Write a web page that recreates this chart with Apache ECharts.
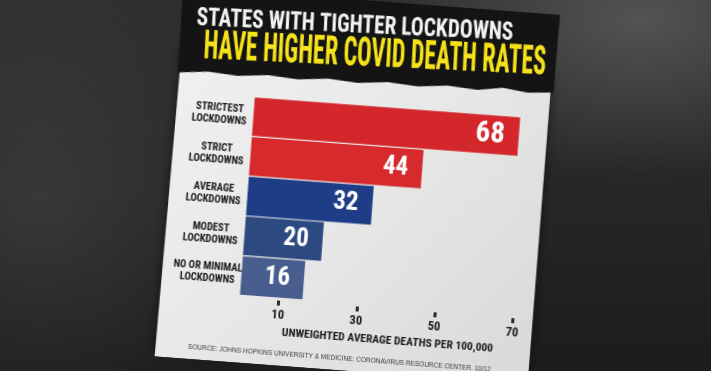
<!DOCTYPE html>
<html>
<head>
<meta charset="utf-8">
<script src="https://cdn.jsdelivr.net/npm/echarts@6/dist/echarts.min.js"></script>
<style>
  html, body { margin: 0; padding: 0; width: 711px; height: 371px; overflow: hidden; }
  body {
    background:
      radial-gradient(ellipse 260px 160px at 640px 20px, rgba(120,120,120,0.5), rgba(120,120,120,0) 100%),
      radial-gradient(ellipse 220px 260px at 40px 200px, rgba(90,90,90,0.35), rgba(90,90,90,0) 100%),
      linear-gradient(180deg, #2e2e2e 0%, #262626 55%, #1c1c1c 100%);
  }
  #chart {
    position: absolute; left: 0; top: 0; width: 711px; height: 371px;
    transform: rotate(4.3deg); transform-origin: 355.5px 185.5px;
  }
</style>
</head>
<body>
<div id="chart"></div>
<script>
// ---- data ----
const categories = ['STRICTEST\nLOCKDOWNS', 'STRICT\nLOCKDOWNS', 'AVERAGE\nLOCKDOWNS', 'MODEST\nLOCKDOWNS', 'NO OR MINIMAL\nLOCKDOWNS'];
const deathRates = [68, 44, 32, 20, 16];
const xTickValues = [10, 30, 50, 70];
const titleLine1 = 'STATES WITH TIGHTER LOCKDOWNS';
const titleLine2 = 'HAVE HIGHER COVID DEATH RATES';
const xAxisTitle = 'UNWEIGHTED AVERAGE DEATHS PER 100,000';
const sourceText = 'SOURCE: JOHNS HOPKINS UNIVERSITY & MEDICINE: CORONAVIRUS RESOURCE CENTER. 10/12';

// ---- styles ----
const barColors = ['#d4272c', '#d62a2d', '#1f3d87', '#2d4a80', '#475e8e'];
const FONT = "'Roboto Condensed', 'Liberation Sans', sans-serif";

const chart = echarts.init(document.getElementById('chart'), null, { renderer: 'canvas' });

const barData = deathRates.map((v, i) => ({
  value: v,
  itemStyle: { color: barColors[i] },
  label: i === 0 ? { fontSize: 29 } : undefined
}));

chart.setOption({
  backgroundColor: 'transparent',
  animation: false,
  grid: { left: 248.5, top: 104.6, width: 274, height: 199, containLabel: false },
  xAxis: {
    type: 'value', min: 0, max: 70, offset: 2.5,
    name: xAxisTitle, nameLocation: 'middle', nameGap: 25,
    nameTextStyle: { fontFamily: FONT, fontWeight: 'bold', fontSize: 11.5, color: '#1a1a1a', padding: [0, 0, 0, 27] },
    splitLine: { show: false },
    axisLine: { show: false },
    axisTick: { show: true, customValues: xTickValues, length: 5, lineStyle: { width: 3, color: '#2a2a2a' } },
    axisLabel: { customValues: xTickValues, margin: 8, fontFamily: FONT, fontWeight: 'bold', fontSize: 12.5, color: '#1a1a1a' }
  },
  yAxis: {
    type: 'category', data: categories, inverse: true,
    axisLine: { show: false }, axisTick: { show: false }, splitLine: { show: false },
    axisLabel: { align: 'center', margin: 34, fontFamily: FONT, fontWeight: 'bold', fontSize: 10.5, lineHeight: 12, color: '#1a1a1a' }
  },
  series: [{
    type: 'bar', data: barData, barCategoryGap: '3%',
    label: { show: true, position: 'insideRight', distance: 14, color: '#ffffff', fontFamily: FONT, fontWeight: 'bold', fontSize: 25 }
  }],
  graphic: [
    {
      type: 'polygon', z: -10,
      shape: { points: [[172, 60], [543, 60], [542, 380], [168, 371]] },
      style: {
        fill: { type: 'linear', x: 0, y: 0, x2: 1, y2: 1, colorStops: [
          { offset: 0, color: '#f0f0f0' }, { offset: 0.45, color: '#e8e8e8' }, { offset: 1, color: '#d8d8d8' }] },
        shadowBlur: 12, shadowColor: 'rgba(0,0,0,0.6)'
      }
    },
    {
      type: 'polygon', z: 10,
      shape: { points: [[168, -40], [547, -40], [546, 78], [520, 80], [495, 77], [470, 81], [440, 79], [410, 82], [380, 80], [350, 83], [320, 81], [290, 84], [260, 82], [230, 85], [200, 83], [170, 86]] },
      style: { fill: '#141414' }
    },
    {
      type: 'text', z: 11, x: 343, y: 26.5, rotation: 0.028, scaleY: 1.18,
      style: { text: titleLine1, fill: '#f2f2f2', fontFamily: FONT, fontWeight: 'bold', fontSize: 21.4, align: 'center', verticalAlign: 'middle' }
    },
    {
      type: 'text', z: 11, x: 365, y: 55, rotation: 0.028, scaleY: 1.68,
      style: { text: titleLine2, fill: '#f5e21b', fontFamily: FONT, fontWeight: 'bold', fontSize: 24, align: 'center', verticalAlign: 'middle' }
    },
    {
      type: 'text', z: 5, x: 200.6, y: 359,
      style: { text: sourceText, fill: '#3a3a3a', fontFamily: "'Liberation Sans', sans-serif", fontSize: 6.5, align: 'left', verticalAlign: 'middle' }
    }
  ]
});
</script>
</body>
</html>
